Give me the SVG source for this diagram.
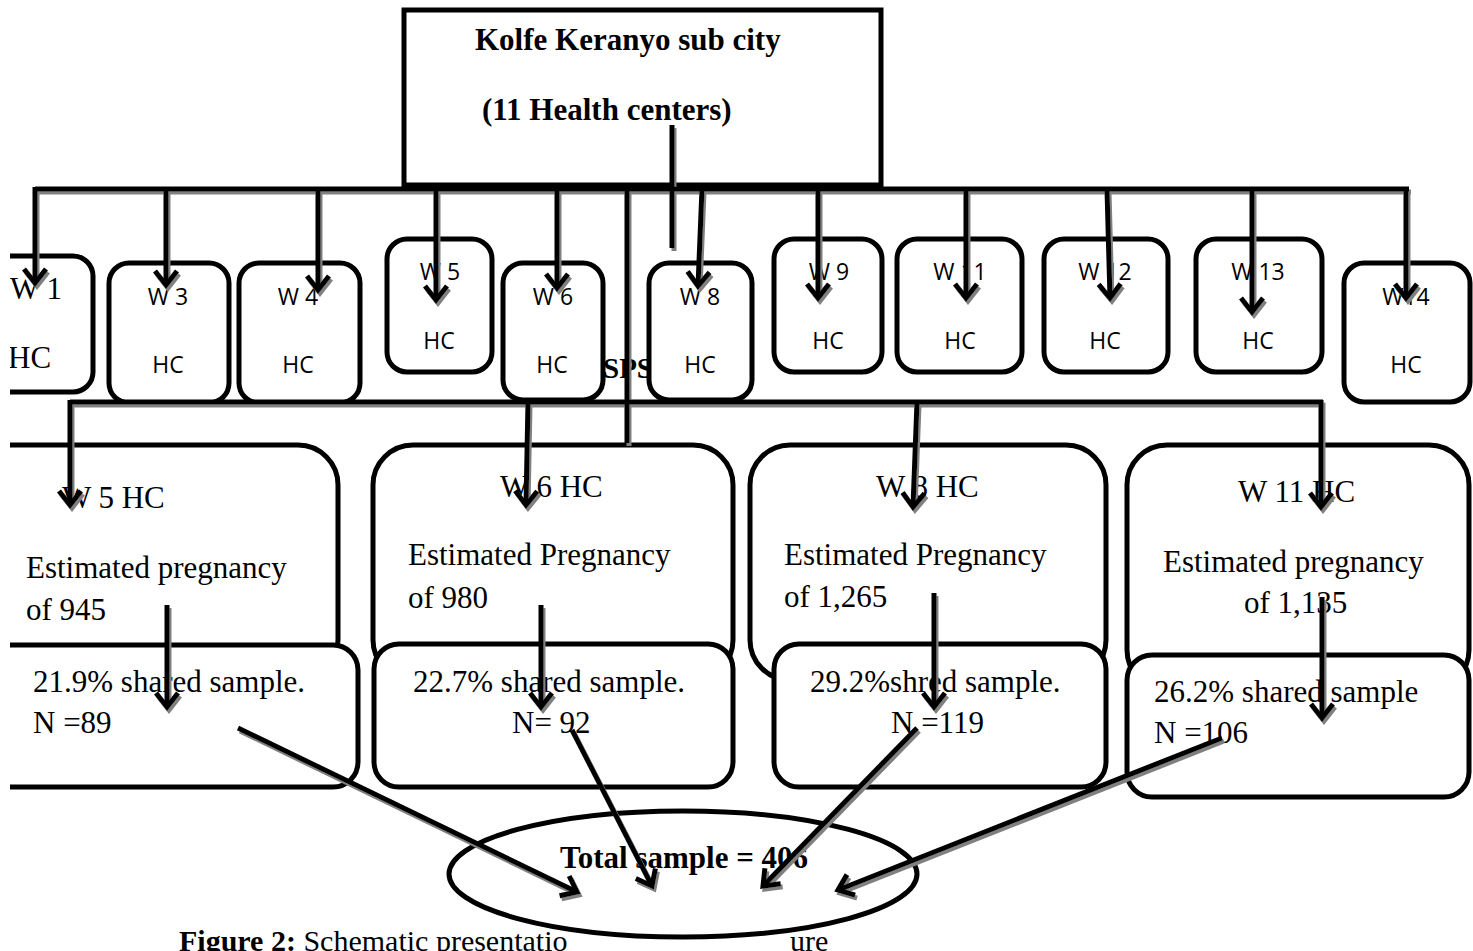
<svg xmlns="http://www.w3.org/2000/svg" width="1473" height="951" viewBox="0 0 1473 951">
<style>
.box{fill:#fff;stroke:#000;stroke-width:5}
.hc{fill:#fff;stroke:#000;stroke-width:5}
.big{fill:#fff;stroke:#000;stroke-width:5}
.sans{font-family:"Open Sans","Liberation Sans",sans-serif;font-size:23px;fill:#000}
.serif{font-family:"Liberation Serif","Times New Roman",serif;font-size:31px;fill:#000}
.b{font-weight:bold}
.mid{text-anchor:middle}
.conn line,.conn path{stroke:#000;stroke-width:5;fill:none}
.conn .a{marker-end:url(#ah)}
</style>
<defs>
<marker id="ah" viewBox="-18 -14 22 28" refX="0" refY="0" markerWidth="22" markerHeight="28" orient="auto" markerUnits="userSpaceOnUse">
<path d="M-14,-11 L0,0 L-14,11" fill="none" stroke="#000" stroke-width="5"/>
</marker>
<filter id="sh" x="-5%" y="-5%" width="110%" height="110%">
<feDropShadow dx="2" dy="3" stdDeviation="0.6" flood-color="#808080" flood-opacity="1"/>
</filter>
<clipPath id="clip"><rect x="10" y="0" width="1463" height="951"/></clipPath>
</defs>
<g clip-path="url(#clip)">
<g id="top">
<rect class="box" x="404" y="10" width="477" height="175"/>
<text class="serif b" x="475" y="50">Kolfe Keranyo sub city</text>
<text class="serif b" x="482" y="120">(11 Health centers)</text>
</g>
<text id="sps" class="serif b" x="603" y="378" style="font-size:29px">SPS</text>
<g id="w1"><rect class="hc" x="-20" y="256" width="113" height="136" rx="20"/>
<text class="serif" x="10" y="299">W 1</text><text class="serif" x="8" y="368">HC</text></g>
<g id="w3"><rect class="hc" x="109" y="263" width="120" height="140" rx="20"/>
<text class="sans mid" x="168" y="305">W 3</text><text class="sans mid" x="168" y="373">HC</text></g>
<g id="w4"><rect class="hc" x="239" y="263" width="121" height="140" rx="20"/>
<text class="sans mid" x="298" y="305">W 4</text><text class="sans mid" x="298" y="373">HC</text></g>
<g id="w5"><rect class="hc" x="387" y="239" width="105" height="133" rx="20"/>
<text class="sans mid" x="440" y="280">W 5</text><text class="sans mid" x="439" y="349">HC</text></g>
<g id="w6"><rect class="hc" x="503" y="263" width="100" height="137" rx="20"/>
<text class="sans mid" x="553" y="305">W 6</text><text class="sans mid" x="552" y="373">HC</text></g>
<g id="w8"><rect class="hc" x="649" y="263" width="103" height="137" rx="20"/>
<text class="sans mid" x="700" y="305">W 8</text><text class="sans mid" x="700" y="373">HC</text></g>
<g id="w9"><rect class="hc" x="774" y="239" width="108" height="133" rx="20"/>
<text class="sans mid" x="829" y="280">W 9</text><text class="sans mid" x="828" y="349">HC</text></g>
<g id="w11"><rect class="hc" x="897" y="239" width="125" height="133" rx="20"/>
<text class="sans mid" x="960" y="280">W 11</text><text class="sans mid" x="960" y="349">HC</text></g>
<g id="w12"><rect class="hc" x="1044" y="239" width="124" height="133" rx="20"/>
<text class="sans mid" x="1105" y="280">W 12</text><text class="sans mid" x="1105" y="349">HC</text></g>
<g id="w13"><rect class="hc" x="1196" y="239" width="126" height="133" rx="20"/>
<text class="sans mid" x="1258" y="280">W 13</text><text class="sans mid" x="1258" y="349">HC</text></g>
<g id="w14"><rect class="hc" x="1344" y="263" width="126" height="139" rx="20"/>
<text class="sans mid" x="1406" y="305">W14</text><text class="sans mid" x="1406" y="373">HC</text></g>

<g id="bigA"><rect class="big" x="-30" y="445" width="368" height="235" rx="40"/>
<text class="serif" x="62" y="508">W 5 HC</text>
<text class="serif" x="26" y="578">Estimated pregnancy</text>
<text class="serif" x="26" y="620">of 945</text></g>
<g id="bigB"><rect class="big" x="373" y="445" width="360" height="235" rx="40"/>
<text class="serif" x="500" y="497">W 6 HC</text>
<text class="serif" x="408" y="565">Estimated Pregnancy</text>
<text class="serif" x="408" y="608">of 980</text></g>
<g id="bigC"><rect class="big" x="750" y="445" width="356" height="235" rx="40"/>
<text class="serif" x="876" y="497">W 8 HC</text>
<text class="serif" x="784" y="565">Estimated Pregnancy</text>
<text class="serif" x="784" y="607">of 1,265</text></g>
<g id="bigD"><rect class="big" x="1127" y="445" width="342" height="245" rx="40"/>
<text class="serif" x="1238" y="502">W 11 HC</text>
<text class="serif" x="1163" y="572">Estimated pregnancy</text>
<text class="serif" x="1244" y="613">of 1,135</text></g>

<g id="lowA"><rect class="big" x="-30" y="645" width="388" height="142" rx="25"/>
<text class="serif" x="33" y="692">21.9% shared sample.</text>
<text class="serif" x="33" y="733">N =89</text></g>
<g id="lowB"><rect class="big" x="374" y="644" width="359" height="143" rx="25"/>
<text class="serif" x="413" y="692">22.7% shared sample.</text>
<text class="serif" x="512" y="733">N= 92</text></g>
<g id="lowC"><rect class="big" x="774" y="644" width="332" height="143" rx="25"/>
<text class="serif" x="810" y="692">29.2%shred sample.</text>
<text class="serif" x="891" y="733">N =119</text></g>
<g id="lowD"><rect class="big" x="1127" y="655" width="342" height="142" rx="25"/>
<text class="serif" x="1154" y="702">26.2% shared sample</text>
<text class="serif" x="1154" y="743">N =106</text></g>

<g id="caption">
<text class="serif" x="179" y="951" style="font-size:30px"><tspan class="b">Figure 2:</tspan> Schematic presentatio</text>
<text class="serif" x="790" y="951" style="font-size:30px">ure</text>
</g>
<g id="total">
<ellipse cx="683" cy="874" rx="234" ry="63" fill="#fff" stroke="#000" stroke-width="5"/>
<text class="serif b mid" x="684" y="868">Total sample = 406</text>
</g>

<g id="connectors" class="conn" filter="url(#sh)">
<line x1="35" y1="189" x2="1409" y2="189"/>
<line class="a" x1="35" y1="187" x2="35" y2="283"/>
<line class="a" x1="166" y1="189" x2="166" y2="285"/>
<line class="a" x1="318" y1="189" x2="318" y2="290"/>
<line class="a" x1="436" y1="189" x2="436" y2="300"/>
<line class="a" x1="557" y1="189" x2="557" y2="288"/>
<line class="a" x1="702" y1="189" x2="698" y2="286"/>
<line class="a" x1="818" y1="189" x2="818" y2="298"/>
<line class="a" x1="966" y1="189" x2="966" y2="298"/>
<line class="a" x1="1107" y1="189" x2="1110" y2="298"/>
<line class="a" x1="1252" y1="189" x2="1252" y2="312"/>
<line class="a" x1="1406" y1="187" x2="1406" y2="298"/>
<line x1="672" y1="125" x2="672" y2="248"/>
<line x1="627" y1="189" x2="627" y2="443"/>
<line x1="70" y1="402" x2="1323" y2="402"/>
<line class="a" x1="70" y1="400" x2="70" y2="505"/>
<line class="a" x1="528" y1="402" x2="526" y2="505"/>
<line class="a" x1="917" y1="402" x2="913" y2="507"/>
<line class="a" x1="1321" y1="400" x2="1321" y2="507"/>
<line class="a" x1="167" y1="605" x2="167" y2="707"/>
<line class="a" x1="541" y1="605" x2="541" y2="707"/>
<line class="a" x1="934" y1="593" x2="934" y2="707"/>
<line class="a" x1="1322" y1="597" x2="1322" y2="718"/>
<line class="a" x1="238" y1="728" x2="577" y2="892"/>
<line class="a" x1="572" y1="730" x2="652" y2="886"/>
<line class="a" x1="917" y1="728" x2="763" y2="886"/>
<line class="a" x1="1222" y1="738" x2="838" y2="890"/>
</g>
</g>
</svg>
